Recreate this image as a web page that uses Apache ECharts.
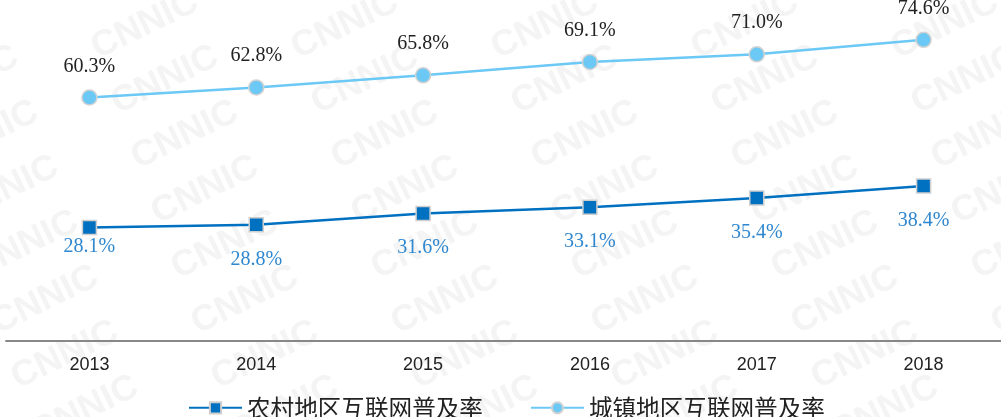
<!DOCTYPE html>
<html>
<head>
<meta charset="utf-8">
<style>
  html, body { margin: 0; padding: 0; background: #fff; }
  #main { width: 1001px; height: 417px; }
</style>
<script src="https://cdn.jsdelivr.net/npm/echarts@6/dist/echarts.min.js"></script>
</head>
<body>
<div id="main"></div>
<script>
// 年份
var years = ['2013', '2014', '2015', '2016', '2017', '2018'];
// 农村地区互联网普及率
var ruralRate = [28.1, 28.8, 31.6, 33.1, 35.4, 38.4];
// 城镇地区互联网普及率
var urbanRate = [60.3, 62.8, 65.8, 69.1, 71.0, 74.6];
var seriesNames = ['农村地区互联网普及率', '城镇地区互联网普及率'];

var ruralColor = '#0070c0';
var urbanColor = '#6cc8f4';

// 水印 CNNIC
var marks = [];
for (var j = -1; j < 9; j++) {
  for (var i = -1; i < 6; i++) {
    marks.push({
      type: 'text',
      x: 145 + 200 * i + 20 * j,
      y: 25 + 55 * j,
      rotation: 26 * Math.PI / 180,
      z: -10,
      silent: true,
      style: {
        text: 'CNNIC',
        fill: '#f4f4f4',
        font: 'bold 36px "Liberation Sans", Arial',
        align: 'center',
        verticalAlign: 'middle',
        textAlign: 'center',
        textVerticalAlign: 'middle'
      }
    });
  }
}

// 第一个点标签离得近
var ruralData = ruralRate.map(function (v, idx) {
  if (idx === 0) {
    return { value: v, label: { distance: 1 } };
  }
  return v;
});

var myChart = echarts.init(document.getElementById('main'));
var option = {
  backgroundColor: '#fff',
  animation: false,
  graphic: marks,
  grid: { left: 6, right: -6, top: 18, bottom: 76, outerBoundsMode: 'none', containLabel: false },
  legend: {
    data: seriesNames,
    left: 188,
    top: 396,
    padding: 0,
    itemWidth: 53,
    itemHeight: 14,
    itemGap: 47,
    textStyle: { fontSize: 23.6, color: '#222', fontFamily: 'Noto Sans CJK SC' }
  },
  xAxis: {
    type: 'category',
    data: years,
    boundaryGap: true,
    axisLine: { lineStyle: { color: '#888', width: 2 } },
    axisTick: { show: false },
    axisLabel: { color: '#222', fontSize: 18, margin: 15, fontFamily: 'Liberation Sans' }
  },
  yAxis: {
    type: 'value',
    min: 0,
    max: 80,
    show: false,
    splitLine: { show: false }
  },
  series: [
    {
      name: seriesNames[0],
      type: 'line',
      data: ruralData,
      symbol: 'rect',
      symbolSize: 14,
      lineStyle: { color: ruralColor, width: 2.5 },
      itemStyle: { color: ruralColor, borderColor: '#cfcfcf', borderWidth: 1.5 },
      label: {
        show: true,
        position: 'bottom',
        distance: 17,
        color: '#2f87cf',
        fontSize: 20,
        fontFamily: 'Liberation Serif',
        formatter: function (p) { return p.value.toFixed(1) + '%'; }
      }
    },
    {
      name: seriesNames[1],
      type: 'line',
      data: urbanRate,
      symbol: 'circle',
      symbolSize: 15,
      lineStyle: { color: urbanColor, width: 2.5 },
      itemStyle: { color: urbanColor, borderColor: '#d2d2d2', borderWidth: 1.5 },
      label: {
        show: true,
        position: 'top',
        distance: 13,
        color: '#222',
        fontSize: 20,
        fontFamily: 'Liberation Serif',
        formatter: function (p) { return p.value.toFixed(1) + '%'; }
      }
    }
  ]
};
myChart.setOption(option);
</script>
</body>
</html>
